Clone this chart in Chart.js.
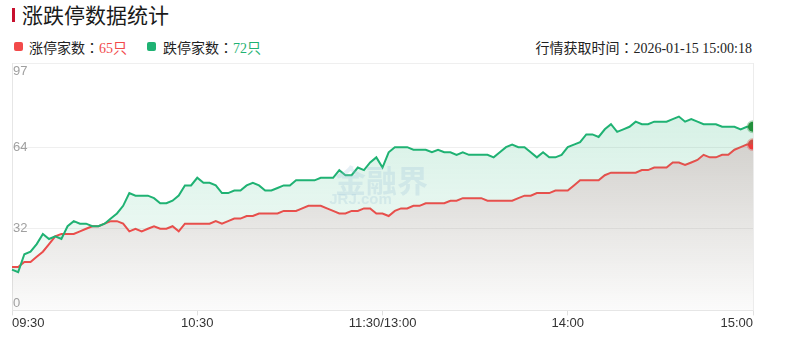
<!DOCTYPE html>
<html>
<head>
<meta charset="utf-8">
<script src="https://cdn.jsdelivr.net/npm/chart.js@4.4.1/dist/chart.umd.min.js"></script>
<style>
  html, body { margin: 0; padding: 0; background: #fff; }
  body { width: 790px; height: 341px; position: relative; overflow: hidden;
         font-family: "Liberation Serif", "Noto Sans CJK SC", serif; color: #222; }
  .bar { position: absolute; left: 12px; top: 8px; width: 3px; height: 14px; background: #c8102e; }
  .title { position: absolute; left: 22px; top: 4px; font-size: 21px; line-height: 21px;
           font-family: "Noto Sans CJK SC", sans-serif; color: #1a1a1a; white-space: nowrap; }
  .legend { position: absolute; top: 40px; font-size: 14px; line-height: 14px; white-space: nowrap; }
  .sq { position: absolute; top: 2px; width: 9px; height: 9px; border-radius: 2px; }
  .stamp { position: absolute; right: 38px; top: 40px; font-size: 14px; line-height: 14px; white-space: nowrap; }
  .colon { font-family: "Noto Sans CJK JP", sans-serif; }
  #wrap { position: absolute; left: 0; top: 0; width: 790px; height: 341px; }
</style>
</head>
<body>
<div class="bar"></div>
<div class="title">涨跌停数据统计</div>
<div class="legend" style="left:14px"><span class="sq" style="left:0;background:#f24a4a"></span><span style="margin-left:15px">涨停家数<span class="colon">：</span><span style="color:#f24a4a">65只</span></span></div>
<div class="legend" style="left:147px"><span class="sq" style="left:0;background:#1fb273"></span><span style="margin-left:16px">跌停家数<span class="colon">：</span><span style="color:#1fb273">72只</span></span></div>
<div class="stamp">行情获取时间<span class="colon">：</span>2026-01-15 15:00:18</div>
<div id="wrap"><canvas id="limitChart"></canvas></div>
<script>
// one point every 2 minutes, 09:30 -> 11:30 then 13:00 -> 15:00
const upCounts = [
  17,17,19,19,21,23,26,29,30,30,
  30,31,32,33,33,34,35,35,34,31,
  32,31,32,33,32,32,33,31,34,34,
  34,34,34,35,34,35,36,36,37,37,
  38,38,38,38,39,39,39,40,41,41,
  41,40,39,38,38,39,39,40,40,38,
  38,37,39,40,40,41,41,42,42,42,
  42,43,43,44,44,44,44,43,43,43,
  43,43,44,45,45,46,46,46,47,47,
  47,49,51,51,51,51,53,54,54,54,
  54,54,55,55,56,56,56,58,58,57,
  58,59,61,60,60,61,61,63,64,65,
  65
];
const downCounts = [
  16,15,22,23,26,30,28,29,28,33,
  35,34,34,33,33,34,36,38,41,46,
  45,45,45,44,42,42,43,45,49,49,
  52,50,50,49,46,46,47,47,49,50,
  49,47,47,48,49,49,51,51,51,51,
  52,52,52,55,53,53,56,55,58,60,
  56,62,64,64,64,63,63,63,62,63,
  62,62,61,62,61,61,61,61,60,62,
  64,65,64,64,62,60,62,60,60,61,
  64,65,66,69,69,68,71,73,70,71,
  72,74,73,73,74,74,74,75,76,74,
  75,74,73,73,73,72,72,72,71,72,
  72
];
const tickIndex = [0, 30, 60, 90, 120];
const tickLabels = ['09:30', '10:30', '11:30/13:00', '14:00', '15:00'];
const yTicks = [0, 32, 64, 97];

const RED = '#f24a4a';
const GREEN = '#1fb273';

// time labels for each point
const times = [];
for (let i = 0; i < upCounts.length; i++) {
    let m = i * 2;
    let base = m <= 120 ? 9 * 60 + 30 : 13 * 60;
    let t = m <= 120 ? base + m : base + (m - 120);
    times.push(String(Math.floor(t / 60)).padStart(2, '0') + ':' + String(t % 60).padStart(2, '0'));
}

function vGradient(chart, top, bottom) {
    const {ctx, chartArea} = chart;
    const g = ctx.createLinearGradient(0, chartArea.top, 0, chartArea.bottom);
    g.addColorStop(0, top);
    g.addColorStop(1, bottom);
    return g;
}

// y labels sit inside the plot, kept within its top and bottom
const yLabelPlugin = {
    id: 'yLabels',
    afterDatasetsDraw(chart) {
        const {ctx, chartArea, scales} = chart;
        ctx.save();
        ctx.font = '13px "Liberation Sans", sans-serif';
        ctx.fillStyle = '#a0a0a0';
        ctx.textAlign = 'left';
        ctx.textBaseline = 'middle';
        yTicks.forEach(v => {
            let y = scales.y.getPixelForValue(v);
            y = Math.min(Math.max(y, chartArea.top + 8), chartArea.bottom - 7);
            ctx.fillText(String(v), chartArea.left + 1, y);
        });
        // right edge of the plot
        ctx.strokeStyle = '#ececec';
        ctx.lineWidth = 1;
        ctx.beginPath();
        ctx.moveTo(Math.round(chartArea.right) + 0.5, chartArea.top);
        ctx.lineTo(Math.round(chartArea.right) + 0.5, chartArea.bottom);
        ctx.stroke();
        ctx.restore();
    }
};

// faint site watermark in the middle
const watermarkPlugin = {
    id: 'watermark',
    afterDatasetsDraw(chart) {
        const {ctx, chartArea} = chart;
        const cx = (chartArea.left + chartArea.right) / 2;
        ctx.save();
        ctx.fillStyle = 'rgba(150, 190, 215, 0.25)';
        ctx.textAlign = 'center';
        ctx.textBaseline = 'alphabetic';
        ctx.font = 'bold 31px "Noto Sans CJK SC", sans-serif';
        ctx.fillText('金融界', cx - 1, 192);
        ctx.font = 'bold 15px "Liberation Sans", sans-serif';
        ctx.fillText('JRJ.com', cx - 22, 204);
        ctx.restore();
    }
};

const lastIdx = upCounts.length - 1;

new Chart(document.getElementById('limitChart'), {
    type: 'line',
    plugins: [watermarkPlugin, yLabelPlugin],
    data: {
        labels: times,
        datasets: [
            {
                label: '跌停家数',
                data: downCounts,
                borderColor: GREEN,
                borderWidth: 2,
                tension: 0,
                clip: 1,
                fill: {target: 1},
                backgroundColor: c => c.chart.chartArea ? vGradient(c.chart, 'rgba(31,178,115,0.22)', 'rgba(31,178,115,0.03)') : null,
                pointRadius: c => c.dataIndex === lastIdx ? 5 : 0,
                pointBackgroundColor: '#23903c',
                pointBorderColor: 'rgba(35,144,60,0.35)',
                pointBorderWidth: 3
            },
            {
                label: '涨停家数',
                data: upCounts,
                borderColor: RED,
                borderWidth: 2,
                tension: 0,
                clip: 1,
                fill: 'origin',
                backgroundColor: c => c.chart.chartArea ? vGradient(c.chart, 'rgba(140,135,125,0.55)', 'rgba(140,135,125,0.03)') : null,
                pointRadius: c => c.dataIndex === lastIdx ? 5 : 0,
                pointBackgroundColor: '#ee3b3b',
                pointBorderColor: 'rgba(238,59,59,0.35)',
                pointBorderWidth: 3
            }
        ]
    },
    options: {
        responsive: true,
        maintainAspectRatio: false,
        animation: false,
        events: [],
        layout: { padding: { left: 12, right: 37, top: 63, bottom: 10 } },
        plugins: {
            legend: { display: false },
            tooltip: { enabled: false }
        },
        scales: {
            x: {
                type: 'category',
                offset: false,
                afterBuildTicks: s => { s.ticks = tickIndex.map(v => ({value: v})); },
                ticks: {
                    autoSkip: false,
                    maxRotation: 0,
                    align: 'inner',
                    color: '#333',
                    padding: 0,
                    font: { size: 13, family: '"Liberation Sans", sans-serif' },
                    callback: (v, i) => tickLabels[i]
                },
                grid: { drawOnChartArea: false, drawTicks: true, tickLength: 5, color: '#e0e0e0' },
                border: { display: true, color: '#e6e6e6' }
            },
            y: {
                min: 0,
                max: 97,
                afterBuildTicks: s => { s.ticks = yTicks.map(v => ({value: v})); },
                ticks: { display: false },
                grid: { color: '#efefef', drawTicks: false },
                border: { display: true, color: '#e6e6e6' }
            }
        }
    }
});
</script>
</body>
</html>
